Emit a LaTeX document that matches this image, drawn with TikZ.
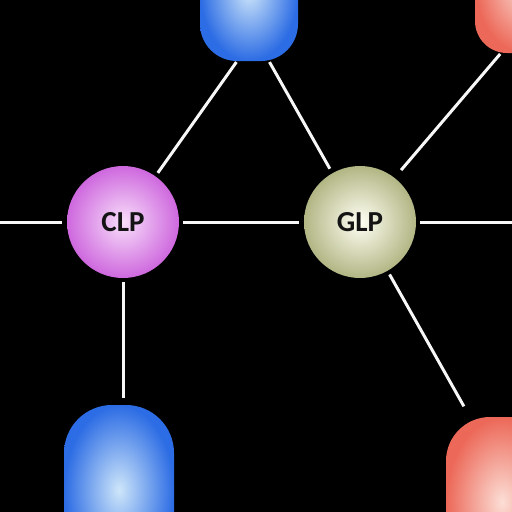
\documentclass[tikz,border=0pt]{standalone}
\usepackage{fontspec}
\newfontfamily\labelfont{Carlito}
\usetikzlibrary{positioning,calc}
\definecolor{clpOut}{RGB}{206,104,222}
\definecolor{clpIn}{RGB}{248,222,250}
\definecolor{glpOut}{RGB}{178,182,132}
\definecolor{glpIn}{RGB}{255,255,244}
\definecolor{blueOut}{RGB}{44,108,228}
\definecolor{blueIn}{RGB}{206,230,250}
\definecolor{salmonOut}{RGB}{236,104,88}
\definecolor{salmonIn}{RGB}{252,222,214}

\begin{document}
\begin{tikzpicture}[x=1pt, y=-1pt,
  link/.style={draw=white!94!gray, line width=3pt, shorten <=4pt, shorten >=5pt},
  disc/.style={circle, minimum size=112pt, inner sep=0pt, text=black!92,
    font=\labelfont\fontsize{29}{29}\selectfont\bfseries},
  pod/.style={rectangle, inner sep=0pt}]
\useasboundingbox (0,0) rectangle (512,512);
\clip (0,0) rectangle (512,512);
\fill[black] (0,0) rectangle (512,512);
% round nodes
\node[disc, inner color=clpIn, outer color=clpOut] (clp) at (123,222) {CLP};
\node[disc, inner color=glpIn, outer color=glpOut] (glp) at (360,222) {GLP};
% capsules running off the edges
\node[pod, rounded corners=37pt, minimum width=98pt, minimum height=140pt,
  inner color=blueIn, outer color=blueOut] (blueTop) at (249,-9) {};
\node[pod, rounded corners=32pt, minimum width=100pt, minimum height=140pt,
  inner color=salmonIn, outer color=salmonOut] (salmonTop) at (525,-17) {};
\node[pod, rounded corners=48pt, minimum width=110pt, minimum height=170pt,
  inner color=blueIn, outer color=blueOut] (blueBottom) at (119,490) {};
\node[pod, rounded corners=44pt, minimum width=112pt, minimum height=170pt,
  inner color=salmonIn, outer color=salmonOut] (salmonBottom) at (502,502) {};
\coordinate (westEnd) at (0,222);
\coordinate (eastEnd) at (512,222);
% links
\draw[link, shorten <=0pt] (westEnd) -- (clp);
\draw[link] (clp) -- (glp);
\draw[link, shorten >=0pt] (glp) -- (eastEnd);
\draw[link, shorten >=1pt] (clp) -- ([xshift=-12pt]blueTop.south);
\draw[link, shorten <=1pt] ([xshift=20pt]blueTop.south) -- (glp);
\draw[link, shorten <=10pt, shorten >=1pt] (glp.52) -- ([xshift=26pt]salmonTop.south west);
\draw[link, shorten >=7pt] (clp) -- (clp |- blueBottom.north);
\draw[link, shorten >=12pt] (glp) -- ([xshift=24pt]salmonBottom.north west);
\end{tikzpicture}
\end{document}
